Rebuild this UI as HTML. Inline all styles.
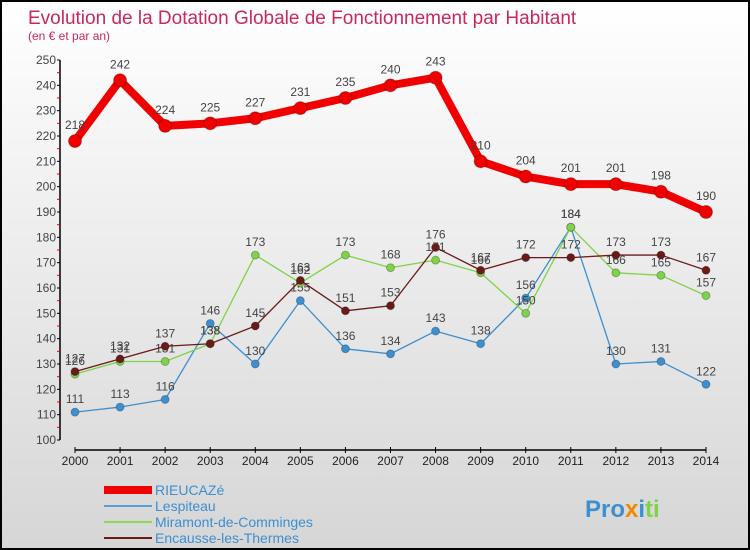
<!DOCTYPE html>
<html><head><meta charset="utf-8"><style>
body{margin:0;width:750px;height:550px;overflow:hidden;font-family:"Liberation Sans",sans-serif}
#wrap{position:absolute;left:0;top:0;width:746px;height:546px;border:2px solid #000;background:linear-gradient(#fff,#d6d6d6)}
</style></head><body>
<div id="wrap">
<svg id="chart" width="746" height="546" style="position:absolute;left:0;top:0"></svg>
</div>
<script>
const years=[2000,2001,2002,2003,2004,2005,2006,2007,2008,2009,2010,2011,2012,2013,2014];
const rieucazs=[218,242,224,225,227,231,235,240,243,210,204,201,201,198,190];
const lespiteau=[111,113,116,146,130,155,136,134,143,138,156,184,130,131,122];
const miramont=[126,131,131,138,173,162,173,168,171,166,150,184,166,165,157];
const encausse=[127,132,137,138,145,163,151,153,176,167,172,172,173,173,167];
const yTicks=[100,110,120,130,140,150,160,170,180,190,200,210,220,230,240,250];
const seriesNames=["RIEUCAZé","Lespiteau","Miramont-de-Comminges","Encausse-les-Thermes"];
const NS="http://www.w3.org/2000/svg";
const svg=document.getElementById('chart');
const ox=-2,oy=-2;
function X(i){return 75+i*(706-75)/14+ox;}
function Y(v){return 440-(v-100)*(380/150)+oy;}
function mk(t,a,p){const e=document.createElementNS(NS,t);for(const k in a)e.setAttribute(k,a[k]);(p||svg).appendChild(e);return e;}
let t=mk('text',{x:26,y:22,'font-size':19,fill:'#c8285a'});t.textContent='Evolution de la Dotation Globale de Fonctionnement par Habitant';


t=mk('text',{x:26,y:38,'font-size':12,fill:'#c8285a'});t.textContent='(en € et par an)';


// y axis
let ax=mk('line',{x1:X(0)-15,y1:Y(250),x2:X(0)-15,y2:Y(100),stroke:'#000','stroke-width':1.5});


yTicks.forEach((v,i)=>{
 mk('line',{x1:X(0)-18,x2:X(0)-15,y1:Y(v),y2:Y(v),stroke:'#000'});
 if(i<yTicks.length-1)mk('line',{x1:X(0)-18,x2:X(0)-15,y1:Y(v+5),y2:Y(v+5),stroke:'#e00'});
 const l=mk('text',{x:X(0)-19,y:Y(v)+4,'font-size':12,fill:'#444','text-anchor':'end'});l.textContent=v;
 
 
});
let xa=mk('line',{x1:X(0),y1:450+oy,x2:X(14),y2:450+oy,stroke:'#000','stroke-width':1.5});


years.forEach((y,i)=>{
 mk('line',{x1:X(i),x2:X(i),y1:447+oy,y2:453+oy,stroke:'#000'});
 const l=mk('text',{x:X(i),y:465+oy,'font-size':12,fill:'#222','text-anchor':'middle'});l.textContent=y;
 
 
});
function series(data,color,w,r,name,labelColor){
 const g=mk('g',{});
 
 
 mk('polyline',{points:data.map((v,i)=>X(i)+','+Y(v)).join(' '),fill:'none',stroke:color,'stroke-width':w,'stroke-linejoin':'round'},g);
 data.forEach((v,i)=>{
  const c=mk('circle',{cx:X(i),cy:Y(v),r:r,fill:color,stroke:'rgba(0,0,0,0.25)'},g);
  
  
  const l=mk('text',{x:X(i),y:Y(v)-9-(r>5?3:0),'font-size':12,fill:labelColor||'#444','text-anchor':'middle'},g);l.textContent=v;
  
  
 });
}
series(lespiteau,'#3d8fd0',1.3,4,'lespiteau-series');
series(miramont,'#7ed348',1.3,4,'miramont-series');
series(encausse,'#6b1a1a',1.3,4,'encausse-series');
series(rieucazs,'#f00000',8,6.5,'rieucaze-series');
// legend
const lc=['#f00000','#5a9fd0','#8cdb58','#6b1a1a'],lw=[8,2,2,2];
seriesNames.forEach((n,i)=>{
 const y=490+i*16+oy;
 const g=mk('g',{});
 
 
 mk('line',{x1:102,x2:150,y1:y,y2:y,stroke:lc[i],'stroke-width':lw[i]},g);
 const l=mk('text',{x:153,y:y+5,'font-size':14,fill:'#3d8fd0'},g);l.textContent=n;
});
const lg=mk('text',{x:583,y:515,'font-size':24,'font-weight':'bold',fill:'#3d8fd0'});
lg.innerHTML='<tspan fill="#3d8fd0">Pro</tspan><tspan fill="#f08a00">x</tspan><tspan fill="#3d8fd0">i</tspan><tspan fill="#7ed348">ti</tspan>';


</script>
</body></html>
